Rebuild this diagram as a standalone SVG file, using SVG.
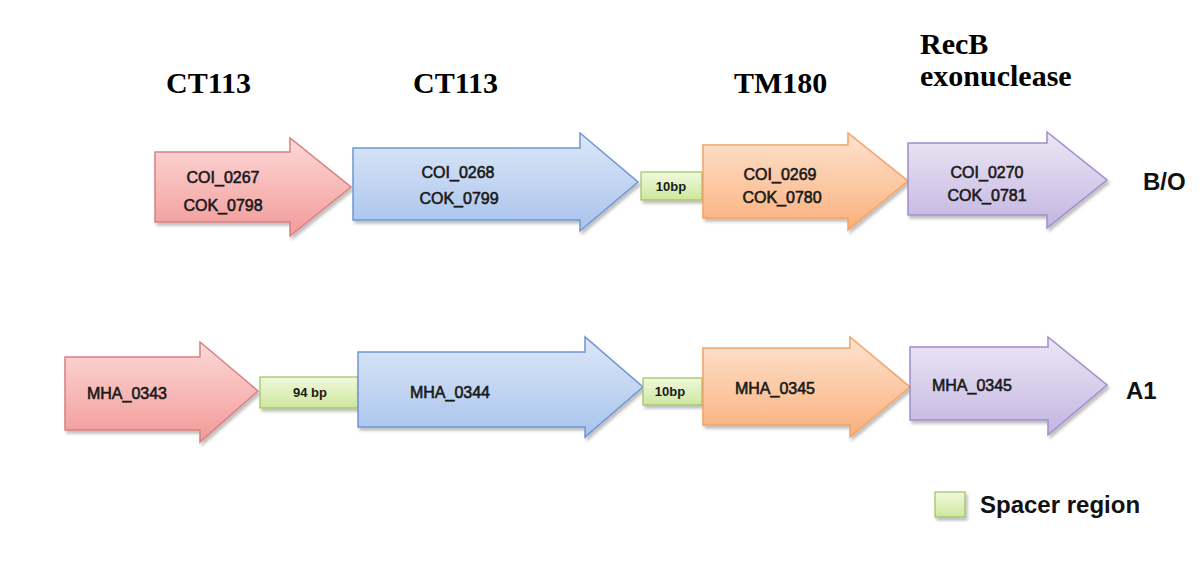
<svg xmlns="http://www.w3.org/2000/svg" width="1200" height="571" viewBox="0 0 1200 571">
<defs>
<linearGradient id="gRed" x1="0" y1="0" x2="0" y2="1"><stop offset="0" stop-color="#fcd9d8"/><stop offset="1" stop-color="#f29a98"/></linearGradient>
<linearGradient id="gBlue" x1="0" y1="0" x2="0" y2="1"><stop offset="0" stop-color="#dde8f8"/><stop offset="1" stop-color="#a8c3ec"/></linearGradient>
<linearGradient id="gOrange" x1="0" y1="0" x2="0" y2="1"><stop offset="0" stop-color="#fde3cf"/><stop offset="1" stop-color="#fab07c"/></linearGradient>
<linearGradient id="gPurple" x1="0" y1="0" x2="0" y2="1"><stop offset="0" stop-color="#ece7f5"/><stop offset="1" stop-color="#c3b5e1"/></linearGradient>
<linearGradient id="gGreen" x1="0" y1="0" x2="0" y2="1"><stop offset="0" stop-color="#f1f9dc"/><stop offset="1" stop-color="#cde79e"/></linearGradient>
<filter id="sh" x="-10%" y="-10%" width="130%" height="130%"><feDropShadow dx="2" dy="3" stdDeviation="1.5" flood-color="#000" flood-opacity="0.25"/></filter>
</defs>
<style>
.red{fill:url(#gRed);stroke:#d9807e;stroke-width:1.5;filter:url(#sh)}
.blue{fill:url(#gBlue);stroke:#6f96d2;stroke-width:1.5;filter:url(#sh)}
.orange{fill:url(#gOrange);stroke:#f3a263;stroke-width:1.5;filter:url(#sh)}
.purple{fill:url(#gPurple);stroke:#a08dcb;stroke-width:1.5;filter:url(#sh)}
.green{fill:url(#gGreen);stroke:#9fc062;stroke-width:1.2;filter:url(#sh)}
.gene{font-family:"Liberation Sans",Arial,sans-serif;font-size:16px;fill:#1a1a1a;text-anchor:middle;stroke:#1a1a1a;stroke-width:0.6}
.sp{font-family:"Liberation Sans",Arial,sans-serif;font-size:13px;font-weight:bold;fill:#1a1a1a;text-anchor:middle}
.head{font-family:"Liberation Serif","Times New Roman",serif;font-size:30px;font-weight:bold;fill:#000}
.row{font-family:"Liberation Sans",Arial,sans-serif;font-size:24px;font-weight:bold;fill:#111}
</style>
<rect width="1200" height="571" fill="#fff"/>
<g id="headers">
<text class="head" x="166" y="93">CT113</text>
<text class="head" x="413" y="93">CT113</text>
<text class="head" x="734" y="93">TM180</text>
<text class="head" x="920" y="54">RecB</text>
<text class="head" x="920" y="86">exonuclease</text>
</g>
<g id="connectors"/>
<g id="row1">
<g id="COI_0267"><path class="red" d="M155,152 L290,152 L290,138 L351,187 L290,236 L290,222 L155,222 Z"/><text class="gene" x="223" y="183">COI_0267</text><text class="gene" x="223" y="211">COK_0798</text></g>
<g id="COI_0268"><path class="blue" d="M353,148 L580,148 L580,133 L638,182 L580,231 L580,220 L353,220 Z"/><text class="gene" x="458" y="178">COI_0268</text><text class="gene" x="459" y="204">COK_0799</text></g>
<g id="spacer1"><rect class="green" x="641" y="172" width="61" height="28"/><text class="sp" x="671" y="191">10bp</text></g>
<g id="COI_0269"><path class="orange" d="M703,145 L848,145 L848,133 L908,181 L848,230 L848,218 L703,218 Z"/><text class="gene" x="780" y="180">COI_0269</text><text class="gene" x="782" y="203">COK_0780</text></g>
<g id="COI_0270"><path class="purple" d="M908,143 L1047,143 L1047,132 L1107,180 L1047,228 L1047,215 L908,215 Z"/><text class="gene" x="987" y="178">COI_0270</text><text class="gene" x="987" y="201">COK_0781</text></g>
<text id="labelBO" class="row" x="1143" y="190">B/O</text>
</g>
<g id="row2">
<g id="MHA_0343"><path class="red" d="M65,357 L200,357 L200,342 L258,391 L200,442 L200,430 L65,430 Z"/><text class="gene" x="127" y="399">MHA_0343</text></g>
<g id="spacer94"><rect class="green" x="260" y="377" width="98" height="31"/><text class="sp" x="310" y="397">94 bp</text></g>
<g id="MHA_0344"><path class="blue" d="M358,352 L585,352 L585,337 L643,387 L585,437 L585,427 L358,427 Z"/><text class="gene" x="450" y="398">MHA_0344</text></g>
<g id="spacer2"><rect class="green" x="643" y="378" width="59" height="27"/><text class="sp" x="670" y="396">10bp</text></g>
<g id="MHA_0345a"><path class="orange" d="M703,348 L850,348 L850,337 L910,387 L850,437 L850,425 L703,425 Z"/><text class="gene" x="775" y="394">MHA_0345</text></g>
<g id="MHA_0345b"><path class="purple" d="M910,347 L1048,347 L1048,337 L1107,385 L1048,435 L1048,420 L910,420 Z"/><text class="gene" x="972" y="391">MHA_0345</text></g>
<text id="labelA1" class="row" x="1126" y="399" font-size="27">A1</text>
</g>
<g id="legend">
<rect class="green" x="935" y="492" width="30" height="25"/>
<text class="row" x="980" y="513" font-size="25">Spacer region</text>
</g>
</svg>
